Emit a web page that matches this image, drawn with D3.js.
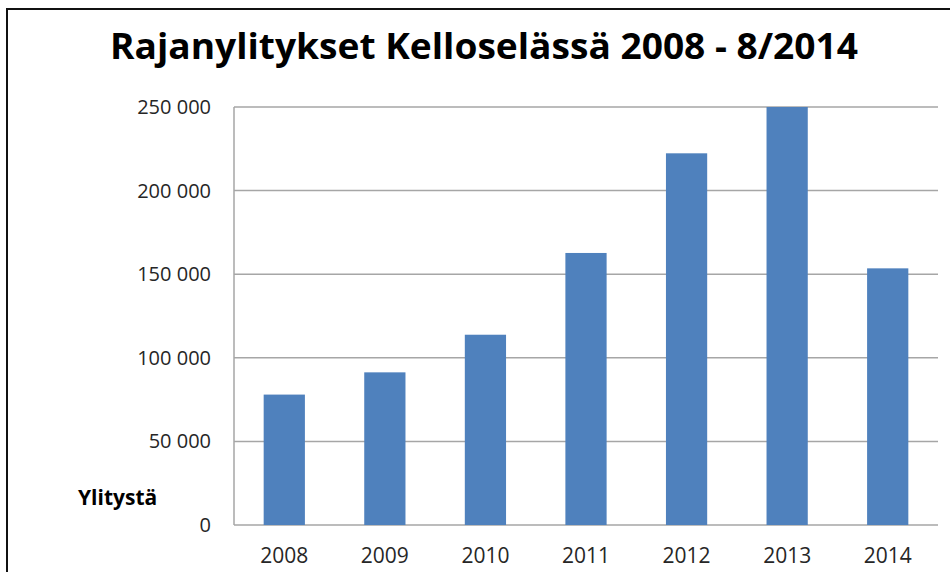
<html>
<head>
<meta charset="utf-8">
<script src="https://d3js.org/d3.v7.min.js"></script>
<style>
  body { margin: 0; background: #fff; }
  svg text { font-family: 'Open Sans', sans-serif; fill: #262626; }
</style>
</head>
<body>
<div id="chart"></div>
<script>
  // data
  var years = ['2008', '2009', '2010', '2011', '2012', '2013', '2014'];
  var crossings = [78000, 91300, 113800, 162700, 222300, 250000, 153500];
  var yTicks = [0, 50000, 100000, 150000, 200000, 250000];

  var width = 950, height = 572;
  var plotLeft = 234, plotRight = 938, plotTop = 107, plotBottom = 525;

  var svg = d3.select('#chart').append('svg')
      .attr('width', width)
      .attr('height', height);

  // outer frame (right and bottom edges run off the picture)
  svg.append('rect')
      .attr('x', 7).attr('y', 9)
      .attr('width', 960).attr('height', 600)
      .attr('fill', 'none')
      .attr('stroke', '#111')
      .attr('stroke-width', 2);

  var x = d3.scaleBand()
      .domain(years)
      .range([plotLeft, plotRight])
      .paddingInner(0.59)
      .paddingOuter(0.295);

  var y = d3.scaleLinear()
      .domain([0, 250000])
      .range([plotBottom, plotTop]);

  var fmt = function (d) { return d3.format(',')(d).replace(/,/g, ' '); };

  // gridlines
  svg.append('g')
    .selectAll('line')
    .data(yTicks)
    .enter().append('line')
      .attr('x1', plotLeft).attr('x2', plotRight)
      .attr('y1', function (d) { return y(d); })
      .attr('y2', function (d) { return y(d); })
      .attr('stroke', '#a6a6a6')
      .attr('stroke-width', 1.5);

  // y axis line
  svg.append('line')
      .attr('x1', plotLeft).attr('x2', plotLeft)
      .attr('y1', plotTop).attr('y2', plotBottom)
      .attr('stroke', '#a6a6a6')
      .attr('stroke-width', 1.5);

  // y tick labels
  svg.append('g')
    .selectAll('text')
    .data(yTicks)
    .enter().append('text')
      .attr('x', 211)
      .attr('y', function (d) { return y(d); })
      .attr('dy', '0.35em')
      .attr('text-anchor', 'end')
      .style('font-size', '20px')
      .text(fmt);

  // bars
  svg.append('g')
    .selectAll('rect')
    .data(crossings)
    .enter().append('rect')
      .attr('x', function (d, i) { return x(years[i]); })
      .attr('y', function (d) { return y(d); })
      .attr('width', x.bandwidth())
      .attr('height', function (d) { return plotBottom - y(d); })
      .attr('fill', '#4f81bd');

  // x labels
  svg.append('g')
    .selectAll('text')
    .data(years)
    .enter().append('text')
      .attr('x', function (d) { return x(d) + x.bandwidth() / 2; })
      .attr('y', 563)
      .attr('text-anchor', 'middle')
      .style('font-size', '21px')
      .text(function (d) { return d; });

  // title
  svg.append('text')
      .attr('x', 484)
      .attr('y', 59)
      .attr('text-anchor', 'middle')
      .attr('textLength', 748)
      .attr('lengthAdjust', 'spacingAndGlyphs')
      .style('font-size', '35px')
      .style('font-weight', 'bold')
      .style('fill', '#000')
      .text('Rajanylitykset Kelloselässä 2008 - 8/2014');

  // axis title
  svg.append('text')
      .attr('x', 78)
      .attr('y', 505)
      .style('font-size', '21px')
      .style('font-weight', 'bold')
      .style('fill', '#000')
      .text('Ylitystä');
</script>
</body>
</html>
